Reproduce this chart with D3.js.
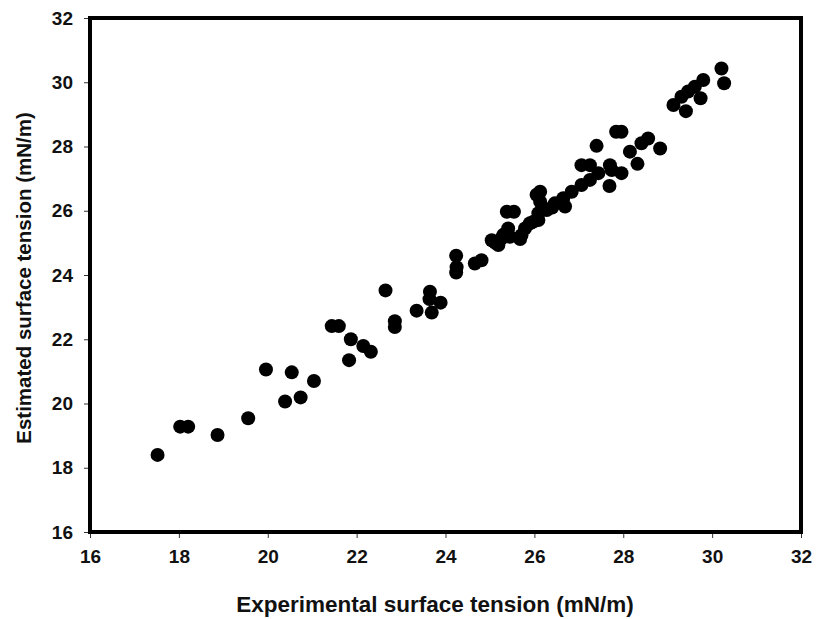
<!DOCTYPE html>
<html><head><meta charset="utf-8">
<script src="https://cdn.jsdelivr.net/npm/d3@7"></script>
<style>body{margin:0;background:#fff}</style>
</head><body>
<svg id="c" width="817" height="619"></svg>
<script>
const xTicks = [16,18,20,22,24,26,28,30,32];
const yTicks = [16,18,20,22,24,26,28,30,32];
const experimental = [17.52,18.03,18.21,18.87,19.56,19.96,20.39,20.54,20.74,21.04,21.44,21.60,21.87,21.83,22.15,22.32,22.65,22.86,22.86,23.35,23.65,23.64,23.69,23.89,24.24,24.25,24.24,24.66,24.81,25.04,25.19,25.26,25.12,25.38,25.54,25.41,25.45,25.30,25.68,25.71,25.79,25.90,26.09,26.05,26.13,25.98,26.09,26.28,26.13,26.46,26.65,26.69,26.84,26.40,27.06,27.25,27.06,27.25,27.44,27.40,27.70,27.74,27.69,27.96,27.84,27.96,28.15,28.32,28.41,28.56,28.83,29.13,29.31,29.41,29.46,29.61,29.74,29.80,30.21,30.27];
const estimated = [18.40,19.28,19.28,19.02,19.54,21.06,20.06,20.97,20.19,20.70,22.41,22.41,22.00,21.35,21.79,21.61,23.52,22.56,22.38,22.89,23.48,23.25,22.83,23.14,24.60,24.24,24.08,24.36,24.46,25.08,24.93,25.14,25.00,25.97,25.97,25.45,25.19,25.25,25.12,25.24,25.45,25.61,25.71,26.50,26.59,25.66,25.92,26.02,26.28,26.23,26.39,26.13,26.59,26.10,26.80,26.96,27.42,27.42,27.17,28.02,27.42,27.27,26.77,27.17,28.46,28.46,27.84,27.46,28.10,28.25,27.94,29.29,29.55,29.10,29.71,29.86,29.50,30.07,30.43,29.97];

const svg = d3.select("#c");
const L = 90, R = 801, T = 18, B = 532;
const x = d3.scaleLinear().domain([16,32]).range([L,R]);
const y = d3.scaleLinear().domain([16,32]).range([B,T]);
const font = "Liberation Sans, Arial, sans-serif";

const xa = svg.append("g").attr("transform",`translate(0,${B})`)
  .call(d3.axisBottom(x).tickValues(xTicks).tickSize(6).tickPadding(12).tickFormat(d3.format("d")));
const ya = svg.append("g").attr("transform",`translate(${L},0)`)
  .call(d3.axisLeft(y).tickValues(yTicks).tickSize(6).tickPadding(11).tickFormat(d3.format("d")));
[xa,ya].forEach(a=>{
  a.select(".domain").remove();
  a.selectAll("line").attr("stroke","#333");
  a.selectAll("text").attr("font-family",font).attr("font-weight","bold").attr("font-size",19).attr("fill","#111");
});

svg.append("g").selectAll("circle").data(experimental).join("circle")
  .attr("cx",(d)=>x(d)).attr("cy",(d,i)=>y(estimated[i])).attr("r",7).attr("fill","#000");

svg.append("rect").attr("x",L).attr("y",T).attr("width",R-L).attr("height",B-T)
  .attr("fill","none").attr("stroke","#000").attr("stroke-width",4);

svg.append("text").attr("x",435).attr("y",612).attr("text-anchor","middle")
  .attr("font-family",font).attr("font-weight","bold").attr("font-size",22.5).attr("fill","#111")
  .text("Experimental surface tension (mN/m)");
svg.append("text").attr("transform",`translate(31,${(T+B)/2 + 3}) rotate(-90)`).attr("text-anchor","middle")
  .attr("font-family",font).attr("font-weight","bold").attr("font-size",20.5).attr("fill","#111")
  .text("Estimated surface tension (mN/m)");
</script>
</body></html>
